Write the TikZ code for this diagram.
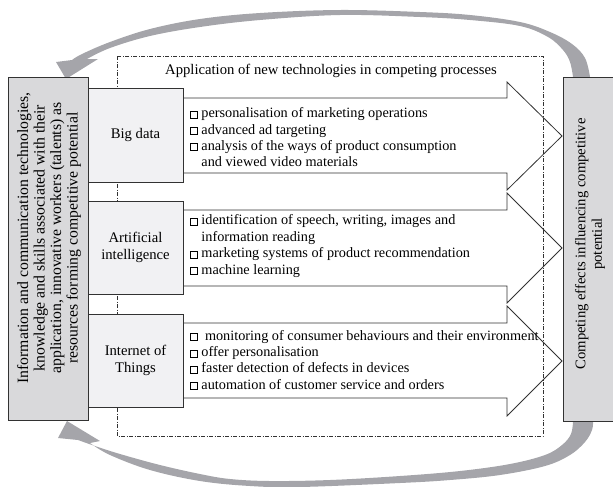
\documentclass[tikz,border=0pt]{standalone}
\usepackage{fontspec}
\setmainfont{Liberation Serif}
\definecolor{boxgray}{RGB}{217,217,219}
\definecolor{techgray}{RGB}{241,241,243}
\definecolor{arcgray}{RGB}{165,165,170}
\definecolor{edgecol}{RGB}{50,50,50}
\newcommand\sqb{{\fboxsep=0pt\fboxrule=0.45pt\fbox{\rule{0pt}{4.8pt}\rule{4.8pt}{0pt}}}}
\begin{document}
\begin{tikzpicture}[x=0.75pt,y=-0.75pt,
  txt/.style={font=\fontsize{11}{12.3}\selectfont, inner sep=0pt},
  bul/.style={font=\fontsize{10.7}{12.3}\selectfont, inner sep=0pt, align=left, anchor=west},
  techbox/.style={draw=edgecol, line width=0.7pt, fill=techgray, minimum width=71.25pt, align=center, font=\fontsize{11}{12.3}\selectfont, inner sep=0pt},
  sidebox/.style={draw=edgecol, line width=0.7pt, fill=boxgray, inner sep=0pt},
  sidetext/.style={align=center, rotate=90, inner sep=0pt},
  blockarrow/.style={draw=edgecol, line width=0.6pt, fill=white, line join=miter},
  frame/.style={draw=edgecol, line width=0.5pt, dash pattern=on 3pt off 1.2pt on 0.6pt off 1.2pt},
  arc/.style={fill=arcgray, draw=none}]
\useasboundingbox (0,0) rectangle (613,486);

% curved feedback arrows
\fill[arc] plot[smooth, tension=0.6] coordinates {(590,77) (585,58) (572,44) (550,32) (520,22) (470,15) (420,12) (340,10) (260,13) (200,19) (150,29) (110,42) (82,54) (72,60)}
  -- (56,62) -- (66,79) -- (98,59) -- (87,59)
  -- plot[smooth, tension=0.6] coordinates {(87,59) (110,48) (150,36) (200,27) (260,20) (340,15) (420,17) (470,20) (520,26) (548,37) (563,50) (570,62) (573,77)} -- cycle;
\fill[arc] plot[smooth, tension=0.6] coordinates {(573,421) (571,434) (562,445) (545,455) (510,464) (460,471) (400,476) (330,480) (270,481) (230,479) (200,474) (160,465) (120,454) (95,446) (78,440)}
  -- (58,438) -- (67,421) -- (100,441) -- (90,443)
  -- plot[smooth, tension=0.6] coordinates {(90,443) (110,455) (150,470) (200,481) (250,486) (300,487) (400,483) (450,480) (500,475) (545,466) (570,455) (585,442) (592,430) (593,421)} -- cycle;

% block arrows
\draw[blockarrow] (180,98) -- (507,98) -- (507,82) -- (562,136) -- (507,190) -- (507,173) -- (180,173) -- cycle;
\draw[blockarrow] (180,210) -- (507,210) -- (507,193) -- (562,248) -- (507,303) -- (507,286) -- (180,286) -- cycle;
\draw[blockarrow] (180,323) -- (507,323) -- (507,306) -- (562,361) -- (507,416) -- (507,398) -- (180,398) -- cycle;

% dash-dot frame
\draw[frame] (117,56) rectangle (543,436);
\node[txt] (title) at (331,71) {Application of new technologies in competing processes};

% technology boxes
\node[techbox, minimum height=70.5pt] (bigdata) at (135.5,135) {Big data};
\node[techbox, minimum height=69.75pt] (ai) at (135.5,247.5) {Artificial\\intelligence};
\node[techbox, minimum height=69.75pt] (iot) at (135.5,360.5) {Internet of\\Things};

% bullet lists
\node[bul] (l1) at (190,137.5) {\sqb\ personalisation of marketing operations\\
\sqb\ advanced ad targeting\\
\sqb\ analysis of the ways of product consumption\\
\phantom{\sqb\ }and viewed video materials};
\node[bul] (l2) at (190,246) {\sqb\ identification of speech, writing, images and\\
\phantom{\sqb\ }information reading\\
\sqb\ marketing systems of product recommendation\\
\sqb\ machine learning};
\node[bul] (l3) at (190,360) {\sqb\ \ monitoring of consumer behaviours and their environment\\
\sqb\ offer personalisation\\
\sqb\ faster detection of defects in devices\\
\sqb\ automation of customer service and orders};

% side boxes
\node[sidebox, minimum width=60pt, minimum height=257.25pt] (res) at (48,248.5) {};
\node[sidetext, font=\fontsize{11.8}{12.4}\selectfont] (restext) at (49,238) {Information and communication technologies,\\knowledge and skills associated with their\\application, innovative workers (talents) as\\resources forming competitive potential};
\node[sidebox, minimum width=38.25pt, minimum height=258pt] (eff) at (588.5,249) {};
\node[sidetext, font=\fontsize{11}{12.3}\selectfont] (efftext) at (590,244) {Competing effects influencing competitive\\potential};
\end{tikzpicture}
\end{document}
